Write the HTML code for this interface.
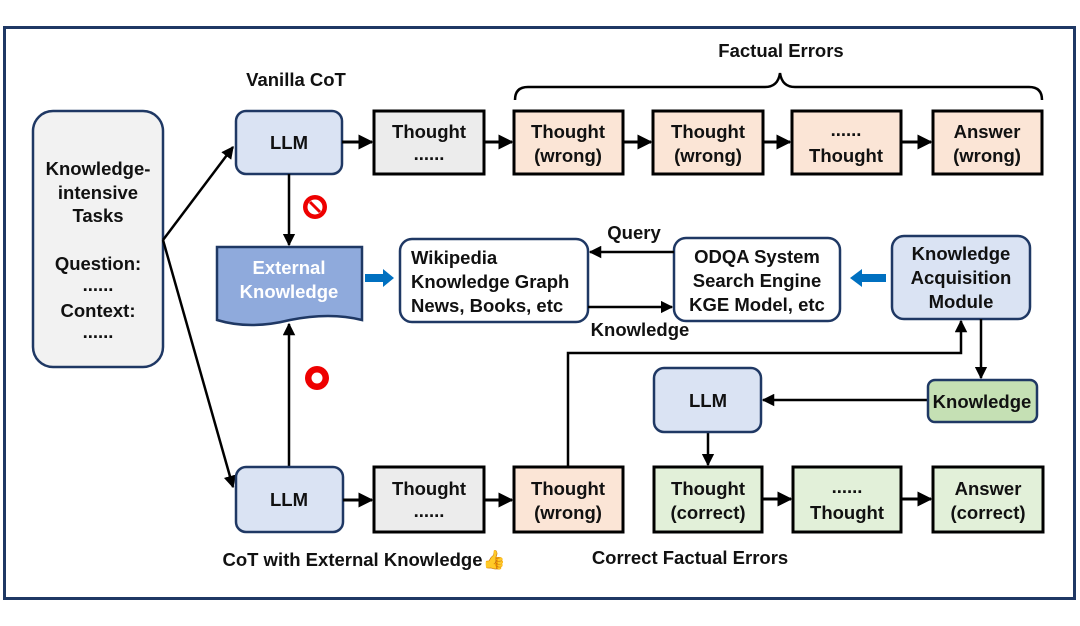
<!DOCTYPE html>
<html><head><meta charset="utf-8"><style>
html,body{margin:0;padding:0;background:#fff;}
svg{display:block;}
text{font-family:"Liberation Sans",sans-serif;font-size:18.5px;fill:#111;text-anchor:middle;}
.b{font-weight:bold;}
</style></head><body>
<svg width="1080" height="626" viewBox="0 0 1080 626" xmlns="http://www.w3.org/2000/svg">
<defs>
<marker id="a" viewBox="0 0 10 10" refX="9" refY="5" markerWidth="5" markerHeight="5" orient="auto"><path d="M0,0 L10,5 L0,10 z" fill="#000"/></marker>
</defs>
<rect x="4.5" y="27.5" width="1070" height="571" fill="none" stroke="#1f3864" stroke-width="3"/>

<rect x="33" y="111" width="130" height="256" rx="20" fill="#f2f2f2" stroke="#1f3864" stroke-width="2.5"/>
<g class="b"><text x="98" y="175">Knowledge-</text><text x="98" y="199">intensive</text><text x="98" y="222">Tasks</text>
<text x="98" y="270">Question:</text><text x="98" y="291">......</text><text x="98" y="317">Context:</text><text x="98" y="338">......</text></g>

<g stroke="#000" stroke-width="2.5" fill="none">
<line x1="163" y1="240" x2="233" y2="147" marker-end="url(#a)"/>
<line x1="163" y1="240" x2="233" y2="487" marker-end="url(#a)"/>
</g>

<text class="b" x="296" y="86">Vanilla CoT</text>
<rect x="236" y="111" width="106" height="63" rx="10" fill="#dae3f3" stroke="#1f3864" stroke-width="2.5"/>
<text class="b" x="289" y="149">LLM</text>
<g stroke="#000" stroke-width="3">
<rect x="374" y="111" width="110" height="63" fill="#ececec"/>
<rect x="514" y="111" width="109" height="63" fill="#fbe5d6"/>
<rect x="653" y="111" width="110" height="63" fill="#fbe5d6"/>
<rect x="792" y="111" width="109" height="63" fill="#fbe5d6"/>
<rect x="933" y="111" width="109" height="63" fill="#fbe5d6"/>
</g>
<g stroke="#000" stroke-width="3" fill="none">
<line x1="342" y1="142" x2="372" y2="142" marker-end="url(#a)"/>
<line x1="484" y1="142" x2="512" y2="142" marker-end="url(#a)"/>
<line x1="623" y1="142" x2="651" y2="142" marker-end="url(#a)"/>
<line x1="763" y1="142" x2="790" y2="142" marker-end="url(#a)"/>
<line x1="901" y1="142" x2="931" y2="142" marker-end="url(#a)"/>
</g>
<g class="b">
<text x="429" y="138">Thought</text><text x="429" y="160">......</text>
<text x="568" y="138">Thought</text><text x="568" y="162">(wrong)</text>
<text x="708" y="138">Thought</text><text x="708" y="162">(wrong)</text>
<text x="846" y="136">......</text><text x="846" y="162">Thought</text>
<text x="987" y="138">Answer</text><text x="987" y="162">(wrong)</text>
</g>
<path d="M515,100 Q515,87 528,87 L765,87 Q778,87 780,73 Q782,87 795,87 L1029,87 Q1042,87 1042,100" fill="none" stroke="#000" stroke-width="2.5"/>
<text class="b" x="781" y="57">Factual Errors</text>

<line x1="289" y1="174" x2="289" y2="245" stroke="#000" stroke-width="2.5" marker-end="url(#a)"/>
<circle cx="315" cy="207" r="12" fill="#e00"/><circle cx="315" cy="207" r="7.5" fill="#fff"/>
<line x1="310" y1="202" x2="320" y2="212" stroke="#e00" stroke-width="3"/>

<path d="M217,247 L362,247 L362,320 Q330,312 290,320 Q250,330 217,320 Z" fill="#8faadc" stroke="#1f3864" stroke-width="2.5"/>
<text class="b" x="289" y="274" style="fill:#fff">External</text>
<text class="b" x="289" y="298" style="fill:#fff">Knowledge</text>
<path d="M365,274 L383,274 L383,269 L394,278 L383,287 L383,282 L365,282 Z" fill="#0070c0"/>
<path d="M886,274 L862,274 L862,269 L850,278 L862,287 L862,282 L886,282 Z" fill="#0070c0"/>

<rect x="400" y="239" width="188" height="83" rx="12" fill="#fff" stroke="#1f3864" stroke-width="2.5"/>
<g class="b">
<text x="411" y="264" style="text-anchor:start">Wikipedia</text>
<text x="411" y="288" style="text-anchor:start">Knowledge Graph</text>
<text x="411" y="312" style="text-anchor:start">News, Books, etc</text>
</g>
<rect x="674" y="238" width="166" height="83" rx="12" fill="#fff" stroke="#1f3864" stroke-width="2.5"/>
<g class="b"><text x="757" y="263">ODQA System</text><text x="757" y="287">Search Engine</text><text x="757" y="311">KGE Model, etc</text></g>
<g stroke="#000" stroke-width="2.5" fill="none">
<line x1="674" y1="252" x2="590" y2="252" marker-end="url(#a)"/>
<line x1="588" y1="307" x2="672" y2="307" marker-end="url(#a)"/>
</g>
<text class="b" x="634" y="239">Query</text>
<text class="b" x="640" y="336">Knowledge</text>

<rect x="892" y="236" width="138" height="83" rx="12" fill="#dae3f3" stroke="#1f3864" stroke-width="2.5"/>
<g class="b"><text x="961" y="260">Knowledge</text><text x="961" y="284">Acquisition</text><text x="961" y="308">Module</text></g>

<g stroke="#000" stroke-width="2.5" fill="none">
<polyline points="568,467 568,353 961,353 961,321" marker-end="url(#a)"/>
<line x1="981" y1="319" x2="981" y2="378" marker-end="url(#a)"/>
<line x1="928" y1="400" x2="763" y2="400" marker-end="url(#a)"/>
<line x1="708" y1="432" x2="708" y2="465" marker-end="url(#a)"/>
<line x1="289" y1="467" x2="289" y2="324" marker-end="url(#a)"/>
</g>
<circle cx="317" cy="378" r="12" fill="#e00"/><circle cx="317" cy="378" r="5.5" fill="#fff"/>

<rect x="928" y="380" width="109" height="42" rx="7" fill="#c5e0b4" stroke="#1f3864" stroke-width="2.5"/>
<text class="b" x="982" y="408">Knowledge</text>
<rect x="654" y="368" width="107" height="64" rx="10" fill="#dae3f3" stroke="#1f3864" stroke-width="2.5"/>
<text class="b" x="708" y="407">LLM</text>

<rect x="236" y="467" width="107" height="65" rx="10" fill="#dae3f3" stroke="#1f3864" stroke-width="2.5"/>
<text class="b" x="289" y="506">LLM</text>
<g stroke="#000" stroke-width="3">
<rect x="374" y="467" width="110" height="65" fill="#ececec"/>
<rect x="514" y="467" width="109" height="65" fill="#fbe5d6"/>
<rect x="654" y="467" width="108" height="65" fill="#e2f0d9"/>
<rect x="793" y="467" width="108" height="65" fill="#e2f0d9"/>
<rect x="933" y="467" width="110" height="65" fill="#e2f0d9"/>
</g>
<g stroke="#000" stroke-width="3" fill="none">
<line x1="343" y1="500" x2="372" y2="500" marker-end="url(#a)"/>
<line x1="484" y1="500" x2="512" y2="500" marker-end="url(#a)"/>
<line x1="762" y1="499" x2="791" y2="499" marker-end="url(#a)"/>
<line x1="901" y1="499" x2="931" y2="499" marker-end="url(#a)"/>
</g>
<g class="b">
<text x="429" y="495">Thought</text><text x="429" y="517">......</text>
<text x="568" y="495">Thought</text><text x="568" y="519">(wrong)</text>
<text x="708" y="495">Thought</text><text x="708" y="519">(correct)</text>
<text x="847" y="493">......</text><text x="847" y="519">Thought</text>
<text x="988" y="495">Answer</text><text x="988" y="519">(correct)</text>
</g>
<text class="b" x="364" y="566">CoT with External Knowledge👍</text>
<text class="b" x="690" y="564">Correct Factual Errors</text>
</svg>
</body></html>
